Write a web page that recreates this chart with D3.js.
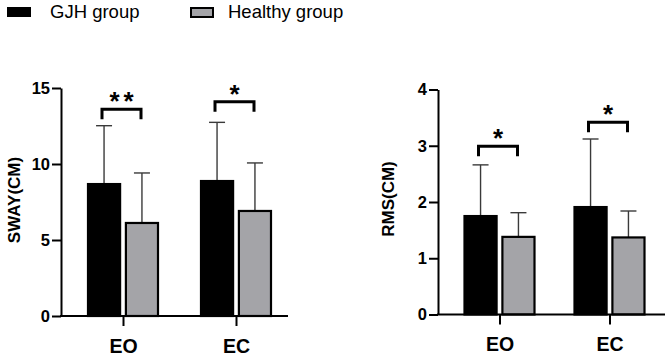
<!DOCTYPE html>
<html>
<head>
<meta charset="utf-8" />
<title>SWAY / RMS bar chart</title>
<style>
  body { margin: 0; background: #fff; }
  svg { display: block; font-family: Arial, "Liberation Sans", sans-serif; }
</style>
</head>
<body>
<svg id="svg" width="669" height="360"></svg>
<script src="https://d3js.org/d3.v7.min.js"></script>
<script>
// data
var conditions = ["EO", "EC"];
var groups = ["GJH group", "Healthy group"];

var swayGJH = [8.68, 8.88];
var swayGJHsd = [3.84, 3.86];
var swayHealthy = [6.12, 6.91];
var swayHealthySd = [3.29, 3.16];
var swayTicks = [0, 5, 10, 15];
var swaySigY = [13.6, 14.1];
var swaySig = ["**", "*"];

var rmsGJH = [1.75, 1.91];
var rmsGJHsd = [0.91, 1.21];
var rmsHealthy = [1.38, 1.37];
var rmsHealthySd = [0.43, 0.47];
var rmsTicks = [0, 1, 2, 3, 4];
var rmsSigY = [2.99, 3.42];
var rmsSig = ["*", "*"];

var colors = ["#000000", "#a4a4a8"];

var svg = d3.select("#svg");

// legend
var legend = svg.append("g");
legend.append("rect").attr("x", 7).attr("y", 7).attr("width", 24).attr("height", 10)
  .attr("fill", colors[0]);
legend.append("text").attr("x", 50).attr("y", 18).attr("font-size", 18.5).text(groups[0]);
legend.append("rect").attr("x", 191).attr("y", 8).attr("width", 22).attr("height", 9)
  .attr("fill", colors[1]).attr("stroke", "#000").attr("stroke-width", 2);
legend.append("text").attr("x", 228).attr("y", 18).attr("font-size", 18.5).text(groups[1]);

function drawPanel(p) {
  var g = svg.append("g");

  var y = d3.scaleLinear().domain([0, p.max]).range([p.y0, p.yTop]);
  var x = d3.scalePoint().domain(conditions).range([p.ax + p.c1, p.ax + p.c2]);
  var inner = d3.scaleBand().domain(groups).range([-36, 36]).paddingInner(0.1);

  var rows = [];
  conditions.forEach(function(c, i) {
    rows.push({ c: c, g: groups[0], v: p.a[i], sd: p.asd[i] });
    rows.push({ c: c, g: groups[1], v: p.b[i], sd: p.bsd[i] });
  });

  // error bars (drawn first so bars sit over them)
  var eb = g.append("g").attr("stroke", "#3a3a3a").attr("stroke-width", 1.4);
  rows.forEach(function(d) {
    var cx = x(d.c) + inner(d.g) + inner.bandwidth() / 2;
    eb.append("line").attr("x1", cx).attr("x2", cx)
      .attr("y1", y(d.v)).attr("y2", y(d.v + d.sd));
    eb.append("line").attr("x1", cx - 8).attr("x2", cx + 8)
      .attr("y1", y(d.v + d.sd)).attr("y2", y(d.v + d.sd));
  });

  // bars
  g.append("g").selectAll("rect").data(rows).join("rect")
    .attr("x", d => x(d.c) + inner(d.g) + 1)
    .attr("width", inner.bandwidth() - 2)
    .attr("y", d => y(d.v))
    .attr("height", d => y(0) - y(d.v))
    .attr("fill", d => colors[groups.indexOf(d.g)])
    .attr("stroke", "#000")
    .attr("stroke-width", 2.2);

  // significance brackets
  conditions.forEach(function(c, i) {
    var yy = y(p.sigY[i]);
    var x1 = x(c) - 21, x2 = x(c) + 18;
    g.append("path")
      .attr("d", "M" + x1 + "," + (yy + 10) + "V" + yy + "H" + x2 + "V" + (yy + 10))
      .attr("fill", "none").attr("stroke", "#000").attr("stroke-width", 3);
    g.append("text").attr("x", (x1 + x2) / 2 + (p.sig[i].length > 1 ? 2 : 0)).attr("y", yy + 1)
      .attr("text-anchor", "middle").attr("font-size", 26).attr("font-weight", "bold")
      .attr("letter-spacing", p.sig[i].length > 1 ? 4 : 0)
      .text(p.sig[i]);
  });

  // y axis
  var yAxis = g.append("g").attr("transform", "translate(" + p.ax + ",0)")
    .call(d3.axisLeft(y).tickValues(p.ticks).tickFormat(d3.format("d"))
      .tickSize(9).tickSizeOuter(0).tickPadding(2));
  yAxis.selectAll("path, line").attr("stroke", "#000").attr("stroke-width", 2);
  yAxis.selectAll("text").attr("font-size", 16.5).attr("font-weight", "bold")
    .attr("fill", "#000").attr("font-family", null);

  // x axis
  g.append("line").attr("x1", p.ax - 1).attr("x2", p.ax + p.xLen)
    .attr("y1", p.y0).attr("y2", p.y0)
    .attr("stroke", "#000").attr("stroke-width", 2);
  var xAxis = g.append("g").attr("transform", "translate(0," + p.y0 + ")")
    .call(d3.axisBottom(x).tickSize(10).tickSizeOuter(0).tickPadding(13));
  xAxis.select(".domain").remove();
  xAxis.selectAll("line").attr("stroke", "#000").attr("stroke-width", 2);
  xAxis.selectAll("text").attr("font-size", 19.5).attr("font-weight", "bold")
    .attr("fill", "#000").attr("font-family", null);

  // y title
  g.append("text")
    .attr("transform", "translate(" + p.tx + "," + p.ty + ") rotate(-90)")
    .attr("text-anchor", "middle").attr("dy", "0.35em")
    .attr("font-size", 17).attr("font-weight", "bold")
    .text(p.title);
}

drawPanel({
  a: swayGJH, asd: swayGJHsd, b: swayHealthy, bsd: swayHealthySd,
  ticks: swayTicks, max: 15, sigY: swaySigY, sig: swaySig,
  ax: 61, y0: 316, yTop: 88, c1: 62, c2: 175, xLen: 227,
  title: "SWAY(CM)", tx: 14, ty: 200
});

drawPanel({
  a: rmsGJH, asd: rmsGJHsd, b: rmsHealthy, bsd: rmsHealthySd,
  ticks: rmsTicks, max: 4, sigY: rmsSigY, sig: rmsSig,
  ax: 438, y0: 314.5, yTop: 89.5, c1: 61.5, c2: 171.5, xLen: 227,
  title: "RMS(CM)", tx: 388, ty: 199
});
</script>
</body>
</html>
